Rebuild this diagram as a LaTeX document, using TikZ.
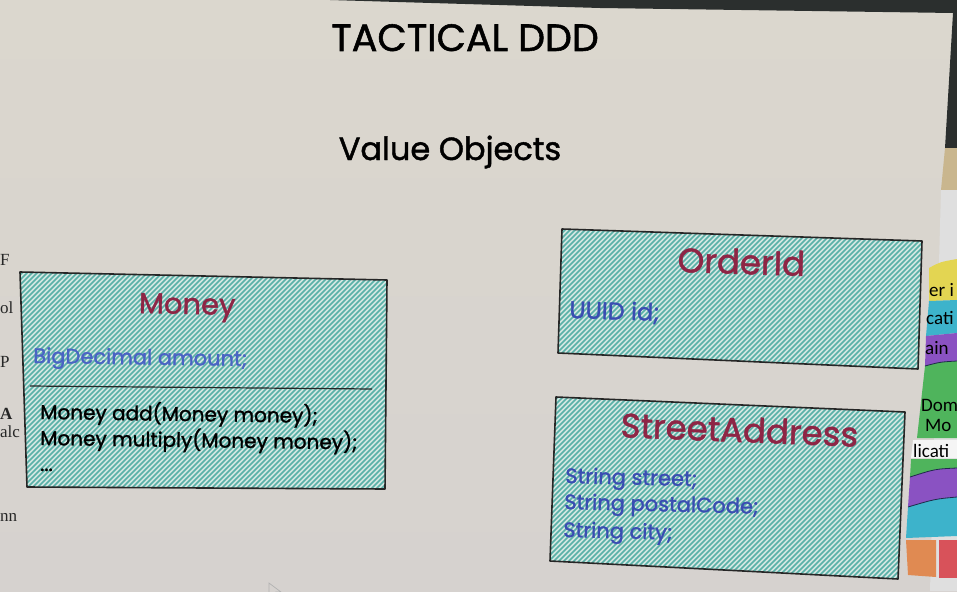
\documentclass[tikz,border=0pt]{standalone}
\usepackage{fontspec}
\newfontfamily\hand[FakeBold=1.4]{Poppins}
\newfontfamily\uisans{Carlito}
\newfontfamily\docserif{Liberation Serif}

\definecolor{screenbg}{HTML}{DBD7CE}
\definecolor{screenlow}{HTML}{D6D2CF}
\definecolor{bezel}{HTML}{2B2F2E}
\definecolor{desk}{HTML}{C9B68E}
\definecolor{hatchbg}{HTML}{D2E6E1}
\definecolor{hatchline}{HTML}{58B0A7}
\definecolor{outline}{HTML}{262626}
\definecolor{titlered}{HTML}{8E2545}
\definecolor{fieldblue}{HTML}{3A4DB2}
\definecolor{fieldblue2}{HTML}{4A63C4}
\definecolor{ringyellow}{HTML}{E3D552}
\definecolor{ringcyan}{HTML}{3DB3CB}
\definecolor{ringpurple}{HTML}{8A52C2}
\definecolor{ringgreen}{HTML}{4FB45C}
\definecolor{ringorange}{HTML}{E08A52}
\definecolor{ringred}{HTML}{D8525A}
\definecolor{ringline}{HTML}{1E2A4A}

\tikzset{
  boxoutline/.style={draw=outline, line width=1.6pt, line join=round},
  hatch/.style={hatchline, line width=1.7pt},
  heading/.style={font=\hand\fontsize{38}{44}\selectfont, text=black, anchor=base},
  subheading/.style={font=\hand\fontsize{32}{38}\selectfont, text=black, anchor=base},
  classname/.style={font=\hand\fontsize{29}{34}\selectfont, text=titlered, anchor=base},
  field/.style={font=\hand\fontsize{21}{26}\selectfont, text=fieldblue, anchor=base west, inner sep=0pt},
  method/.style={font=\hand\fontsize{20}{24}\selectfont, text=black, anchor=base west, inner sep=0pt},
  ringtext/.style={font=\uisans\fontsize{19}{22}\selectfont, text=black, anchor=base west, inner sep=0pt},
  sidetext/.style={font=\docserif\fontsize{17}{20}\selectfont, text=black!85, anchor=base west, inner sep=0pt},
}

% hatched quadrilateral: fill, diagonal strokes clipped to the outline, border
\newcommand{\hatchquad}[4]{%
  \fill[hatchbg] (#1) -- (#2) -- (#3) -- (#4) -- cycle;
  \begin{scope}
    \clip (#1) -- (#2) -- (#3) -- (#4) -- cycle;
    \foreach \k in {-420,-415,...,960}
      \draw[hatch] (\k,600) -- (\k+600,0);
  \end{scope}
  \draw[boxoutline] (#1) -- (#2) -- (#3) -- (#4) -- cycle;
}

\begin{document}
\begin{tikzpicture}[x=1pt,y=-1pt]
\useasboundingbox (0,0) rectangle (957,591);
\clip (0,0) rectangle (957,591);

% screen surface
\shade[top color=screenbg, bottom color=screenlow] (0,0) rectangle (957,591);

% monitor frame and desk beyond the screen edge
\fill[bezel] (330,0) -- (957,0) -- (957,148) -- (945,148) -- (953,13) -- (600,8) -- cycle;
\fill[desk] (945,148) -- (957,148) -- (957,190) -- (941,190) -- cycle;
\fill[gray!25] (941,190) -- (957,190) -- (957,591) -- (930,591) -- cycle;

% neighbouring window: layered ring diagram
\fill[ringyellow] (929,301) -- (929,268) .. controls (940,262) .. (957,259) -- (957,300) -- cycle;
\fill[ringcyan] (929,301) -- (957,300) -- (957,333) -- (926,336) -- cycle;
\fill[ringpurple] (926,336) -- (957,333) -- (957,361) .. controls (940,362) .. (925,366) -- cycle;
\fill[ringgreen] (925,366) .. controls (940,362) .. (957,361) -- (957,438) -- (917,438) -- cycle;
\fill[white!92!gray] (913,440) -- (957,440) -- (957,458) -- (911,458) -- cycle;
\fill[ringgreen] (911,459) -- (957,459) -- (957,468) .. controls (935,469) .. (910,477) -- cycle;
\fill[ringpurple] (910,477) .. controls (935,469) .. (957,468) -- (957,497) .. controls (935,499) .. (908,507) -- cycle;
\fill[ringcyan] (908,507) .. controls (935,499) .. (957,497) -- (957,536) -- (906,538) -- cycle;
\fill[ringorange] (906,540) -- (936,540) -- (936,577) -- (908,575) -- cycle;
\fill[ringred] (939,540) -- (957,540) -- (957,578) -- (939,578) -- cycle;
\draw[ringline, line width=0.8pt] (925,366) .. controls (940,362) .. (957,361);
\draw[ringline, line width=0.8pt] (910,477) .. controls (935,469) .. (957,468);
\draw[ringline, line width=0.8pt] (908,507) .. controls (935,499) .. (957,497);
\node[ringtext] (ringA) at (929,296) {er i};
\node[ringtext] (ringB) at (926,324) {cati};
\node[ringtext] (ringC) at (925,354) {ain};
\node[ringtext] (ringD) at (921,411) {Dom};
\node[ringtext] (ringE) at (925,431) {Mo};
\node[ringtext] (ringF) at (913,457) {licati};

% neighbouring document text at the left edge
\node[sidetext] (sideA) at (0,265) {F};
\node[sidetext] (sideB) at (0,313) {ol};
\node[sidetext] (sideC) at (0,367) {P};
\node[sidetext, font=\docserif\bfseries\fontsize{17}{20}\selectfont] (sideD) at (0,419) {A};
\node[sidetext] (sideE) at (0,437) {alc};
\node[sidetext] (sideF) at (0,521) {nn};

% headings
\node[heading] (title) at (465,51) {TACTICAL DDD};
\node[subheading] (subtitle) at (450,160) {Value Objects};

% Money
\coordinate (m1) at (20,272);
\coordinate (m2) at (387,280);
\coordinate (m3) at (385,489);
\coordinate (m4) at (27,487);
\hatchquad{m1}{m2}{m3}{m4}
\coordinate (mdivA) at (30,386);
\coordinate (mdivB) at (372,389);
\draw[outline, line width=1.2pt] (mdivA) -- (mdivB);
\node[classname, rotate=-1.2] (money) at (187,314) {Money};
\node[field, text=fieldblue2, rotate=-0.8] (moneyF) at (33,363) {BigDecimal amount;};
\node[method, rotate=-0.8] (moneyM1) at (40,419) {Money add(Money money);};
\node[method, rotate=-0.8] (moneyM2) at (40,445) {Money multiply(Money money);};
\node[method] (moneyM3) at (40,471) {...};

% OrderId
\coordinate (o1) at (562,229);
\coordinate (o2) at (922,241);
\coordinate (o3) at (918,369);
\coordinate (o4) at (558,353);
\hatchquad{o1}{o2}{o3}{o4}
\node[classname, font=\hand\fontsize{34}{40}\selectfont, rotate=-1.8] (orderid) at (741,274) {OrderId};
\node[field, font=\hand\fontsize{24}{28}\selectfont, rotate=-1.8] (orderidF) at (569,318) {UUID id;};

% StreetAddress
\coordinate (s1) at (556,397);
\coordinate (s2) at (905,412);
\coordinate (s3) at (898,579);
\coordinate (s4) at (550,561);
\hatchquad{s1}{s2}{s3}{s4}
\node[classname, font=\hand\fontsize{34}{40}\selectfont, rotate=-2.3] (street) at (739,442) {StreetAddress};
\node[field, rotate=-1.4] (streetF1) at (565,483) {String street;};
\node[field, rotate=-1.4] (streetF2) at (564,509) {String postalCode;};
\node[field, rotate=-1.4] (streetF3) at (563,537) {String city;};

% mouse pointer
\draw[gray!60, line width=0.7pt, fill=screenlow] (269,583) -- (269,597) -- (273,593) -- (277,599) -- (279,598) -- (276,592) -- (281,592) -- cycle;
\end{tikzpicture}
\end{document}
